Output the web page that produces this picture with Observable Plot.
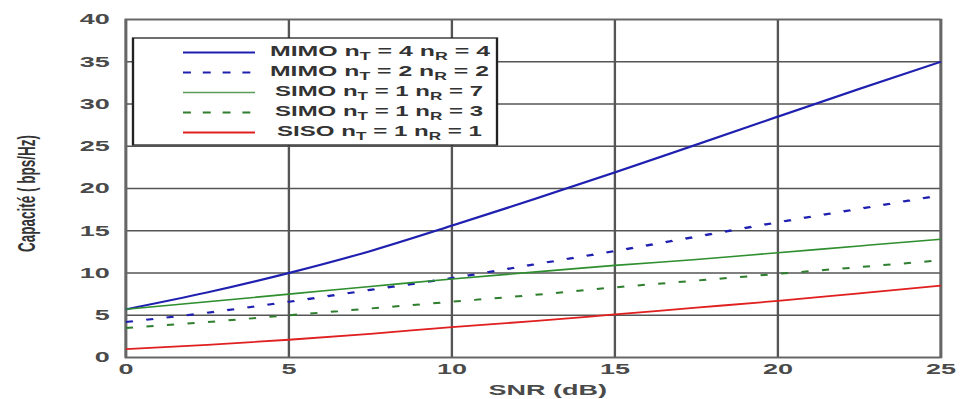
<!DOCTYPE html>
<html><head><meta charset="utf-8">
<script src="https://cdn.jsdelivr.net/npm/d3@7"></script>
<script src="https://cdn.jsdelivr.net/npm/@observablehq/plot@0.6"></script>
<style>html,body{margin:0;padding:0;background:#fff}#chart svg{display:block}</style>
</head><body><div id="chart"></div>
<script>
// ---- data ----
const snr    = [0, 2.5, 5, 7.5, 10, 12.5, 15, 17.5, 20, 22.5, 25];
const mimo44 = [5.7, 7.7, 10.0, 12.6, 15.6, 18.7, 21.9, 25.2, 28.5, 31.8, 35.0];
const mimo22 = [4.2, 5.3, 6.6, 8.0, 9.4, 11.0, 12.6, 14.3, 16.0, 17.6, 19.2];
const simo17 = [5.7, 6.6, 7.5, 8.4, 9.3, 10.1, 10.9, 11.6, 12.4, 13.2, 14.0];
const simo13 = [3.5, 4.2, 5.0, 5.8, 6.6, 7.4, 8.3, 9.1, 9.9, 10.7, 11.5];
const siso11 = [1.0, 1.5, 2.1, 2.8, 3.6, 4.3, 5.1, 5.9, 6.7, 7.6, 8.5];

const legendMain = ["MIMO", "MIMO", "SIMO", "SIMO", "SISO"];
const legendNT   = [4, 2, 1, 1, 1];
const legendNR   = [4, 2, 7, 3, 1];

const xTicks = [0, 5, 10, 15, 20, 25];
const yTicks = [0, 5, 10, 15, 20, 25, 30, 35, 40];
const xLabel = "SNR (dB)";
const yLabel = "Capacité ( bps/Hz)";

// ---- styles ----
const SX = 1.8;               // horizontal stretch of the picture
const W = 960 / SX, H = 399;
const styles = [
  {stroke: "#2020b0", strokeWidth: 2,   dash: null},
  {stroke: "#2020b0", strokeWidth: 2.2, dash: "4,7.5"},
  {stroke: "#2f8f2f", strokeWidth: 1.6, dash: null},
  {stroke: "#2f7f2f", strokeWidth: 2,   dash: "4,7.5"},
  {stroke: "#e02020", strokeWidth: 1.8, dash: null}
];
const seriesValues = [mimo44, mimo22, simo17, simo13, siso11];
const tables = seriesValues.map(vals => snr.map((s, i) => ({snr: s, cap: vals[i]})));

const plot = Plot.plot({
  width: W, height: H,
  marginLeft: 125 / SX, marginRight: 20 / SX, marginTop: 19, marginBottom: 42,
  x: {domain: [0, 25]},
  y: {domain: [0, 40]},
  style: {background: "white", fontFamily: "'Liberation Sans', Arial, sans-serif", fontSize: "15px", fontWeight: "bold", color: "#4a4a4a"},
  marks: [
    Plot.gridY(yTicks, {stroke: "#555", strokeOpacity: 1, strokeWidth: 1.3}),
    Plot.gridX(xTicks, {stroke: "#555", strokeOpacity: 1, strokeWidth: 1.3}),
    Plot.frame({stroke: "#666", strokeWidth: 1.6}),
    Plot.axisY(yTicks, {tickSize: 0, tickPadding: 9, label: null, fill: "#4a4a4a", fontSize: 15}),
    Plot.axisX(xTicks, {tickSize: 0, tickPadding: 6, label: null, fill: "#4a4a4a", fontSize: 15}),
    ...tables.map((t, i) => Plot.line(t, {
      x: "snr", y: "cap", curve: "monotone-x",
      stroke: styles[i].stroke, strokeWidth: styles[i].strokeWidth,
      strokeDasharray: styles[i].dash, strokeLinecap: "butt"
    })),
    Plot.text([yLabel], {frameAnchor: "left", textAnchor: "middle", lineAnchor: "middle", dx: -55, dy: 5, rotate: -90, fontSize: 13.5, fontWeight: "bold", fill: "#333"}),
    Plot.text([xLabel], {frameAnchor: "bottom", textAnchor: "middle", lineAnchor: "middle", dx: 8, dy: 33, fontSize: 15, fontWeight: "bold", fill: "#4a4a4a"})
  ]
});

// stretch horizontally like the reference
plot.setAttribute("width", 960);
plot.setAttribute("height", 399);
plot.setAttribute("viewBox", `0 0 ${W} ${H}`);
plot.setAttribute("preserveAspectRatio", "none");
plot.style.width = "960px";
plot.style.height = "399px";
plot.style.maxWidth = "none";

// legend
const svg = d3.select(plot);
const lg = svg.append("g").attr("class", "legend").attr("text-anchor", "start");
lg.append("rect")
  .attr("x", 133 / SX).attr("y", 38)
  .attr("width", (497 - 133) / SX).attr("height", 107)
  .attr("fill", "white").attr("stroke", "#222").attr("stroke-width", 1.3);
const textStart = [270, 270, 275, 275, 277];
const textLen   = [220, 219, 208, 208, 205];
legendMain.forEach((m, i) => {
  const ly = 52.5 + 20 * i;
  lg.append("line")
    .attr("x1", 183 / SX).attr("x2", 255 / SX).attr("y1", ly).attr("y2", ly)
    .attr("stroke", i === 2 ? "#5a9a5a" : styles[i].stroke)
    .attr("stroke-width", i === 2 ? 1.3 : 1.8)
    .attr("stroke-dasharray", styles[i].dash ? "4.4,6.6" : null);
  const t = lg.append("text")
    .attr("x", textStart[i] / SX).attr("y", ly + 3.7)
    .attr("text-anchor", "start")
    .attr("font-family", "'Liberation Sans', Arial, sans-serif")
    .attr("font-size", 14).attr("font-weight", "bold").attr("fill", "#333")
    .attr("textLength", textLen[i] / SX).attr("lengthAdjust", "spacingAndGlyphs");
  t.append("tspan").text(m + " n");
  t.append("tspan").attr("dy", 3.5).attr("font-size", 10).text("T");
  t.append("tspan").attr("dy", -3.5).text(" = " + legendNT[i] + " n");
  t.append("tspan").attr("dy", 4).attr("font-size", 10).text("R");
  t.append("tspan").attr("dy", -4).text(" = " + legendNR[i]);
});

document.getElementById("chart").appendChild(plot);
</script>
</body></html>
